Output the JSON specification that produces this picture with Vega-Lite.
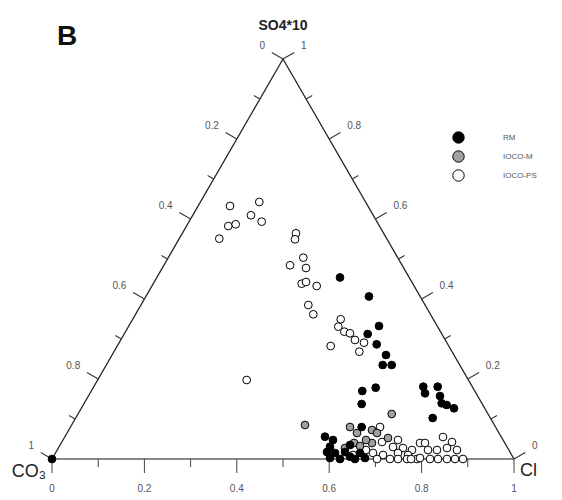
{
  "$schema": "https://vega.github.io/schema/vega-lite/v6.json",
  "width": 462,
  "height": 400,
  "autosize": "none",
  "padding": {"left": 52, "top": 59, "right": 48, "bottom": 41},
  "background": "white",
  "config": {"view": {"stroke": null}, "font": "Liberation Sans"},
  "layer": [
    {
      "data": {"values": [{"x": 0, "y": 0, "x2": 1, "y2": 0}]},
      "mark": {"type": "rule", "color": "#888", "strokeWidth": 2.2},
      "encoding": {
        "x": {"field": "x", "type": "quantitative", "scale": {"domain": [0, 1], "nice": false, "zero": false}, "axis": null},
        "y": {"field": "y", "type": "quantitative", "scale": {"domain": [0, 1], "nice": false, "zero": false}, "axis": null},
        "x2": {"field": "x2"},
        "y2": {"field": "y2"}
      }
    },
    {
      "data": {"values": [{"x": 0, "y": 0, "x2": 0.5, "y2": 1}, {"x": 0.5, "y": 1, "x2": 1, "y2": 0}]},
      "mark": {"type": "rule", "color": "#222", "strokeWidth": 1.3},
      "encoding": {
        "x": {"field": "x", "type": "quantitative"},
        "y": {"field": "y", "type": "quantitative"},
        "x2": {"field": "x2"},
        "y2": {"field": "y2"}
      }
    },
    {
      "data": {"values": [{"x": 0, "y": 0}, {"x": 0.2, "y": 0}, {"x": 0.4, "y": 0}, {"x": 0.6, "y": 0}, {"x": 0.8, "y": 0}, {"x": 1, "y": 0}]},
      "mark": {"type": "point", "shape": "M0,0L0,1", "size": 784, "filled": false, "stroke": "#444", "strokeWidth": 1, "opacity": 1},
      "encoding": {"x": {"field": "x", "type": "quantitative"}, "y": {"field": "y", "type": "quantitative"}}
    },
    {
      "data": {"values": [{"x": 0.1, "y": 0}, {"x": 0.3, "y": 0}, {"x": 0.5, "y": 0}, {"x": 0.7, "y": 0}, {"x": 0.9, "y": 0}]},
      "mark": {"type": "point", "shape": "M0,0L0,1", "size": 256, "filled": false, "stroke": "#444", "strokeWidth": 1, "opacity": 1},
      "encoding": {"x": {"field": "x", "type": "quantitative"}, "y": {"field": "y", "type": "quantitative"}}
    },
    {
      "data": {"values": [{"x": 0.5, "y": 1}, {"x": 0.4, "y": 0.8}, {"x": 0.3, "y": 0.6}, {"x": 0.2, "y": 0.4}, {"x": 0.1, "y": 0.2}, {"x": 0, "y": 0}]},
      "mark": {"type": "point", "shape": "M0,0L-1,0", "angle": 30, "size": 676, "filled": false, "stroke": "#333", "strokeWidth": 1, "opacity": 1},
      "encoding": {"x": {"field": "x", "type": "quantitative"}, "y": {"field": "y", "type": "quantitative"}}
    },
    {
      "data": {"values": [{"x": 0.45, "y": 0.9}, {"x": 0.35, "y": 0.7}, {"x": 0.25, "y": 0.5}, {"x": 0.15, "y": 0.3}, {"x": 0.05, "y": 0.1}]},
      "mark": {"type": "point", "shape": "M0,0L-1,0", "angle": 30, "size": 196, "filled": false, "stroke": "#333", "strokeWidth": 1, "opacity": 1},
      "encoding": {"x": {"field": "x", "type": "quantitative"}, "y": {"field": "y", "type": "quantitative"}}
    },
    {
      "data": {"values": [{"x": 1, "y": 0}, {"x": 0.9, "y": 0.2}, {"x": 0.8, "y": 0.4}, {"x": 0.7, "y": 0.6}, {"x": 0.6, "y": 0.8}, {"x": 0.5, "y": 1}]},
      "mark": {"type": "point", "shape": "M0,0L1,0", "angle": 330, "size": 676, "filled": false, "stroke": "#333", "strokeWidth": 1, "opacity": 1},
      "encoding": {"x": {"field": "x", "type": "quantitative"}, "y": {"field": "y", "type": "quantitative"}}
    },
    {
      "data": {"values": [{"x": 0.95, "y": 0.1}, {"x": 0.85, "y": 0.3}, {"x": 0.75, "y": 0.5}, {"x": 0.65, "y": 0.7}, {"x": 0.55, "y": 0.9}]},
      "mark": {"type": "point", "shape": "M0,0L1,0", "angle": 330, "size": 196, "filled": false, "stroke": "#333", "strokeWidth": 1, "opacity": 1},
      "encoding": {"x": {"field": "x", "type": "quantitative"}, "y": {"field": "y", "type": "quantitative"}}
    },
    {
      "data": {"values": [{"x": 0, "y": 0, "label": "0"}, {"x": 0.2, "y": 0, "label": "0.2"}, {"x": 0.4, "y": 0, "label": "0.4"}, {"x": 0.6, "y": 0, "label": "0.6"}, {"x": 0.8, "y": 0, "label": "0.8"}, {"x": 1, "y": 0, "label": "1"}]},
      "mark": {"type": "text", "align": "center", "baseline": "middle", "dy": 30, "fontSize": 10, "color": "#555"},
      "encoding": {"x": {"field": "x", "type": "quantitative"}, "y": {"field": "y", "type": "quantitative"}, "text": {"field": "label"}}
    },
    {
      "data": {"values": [{"x": 0.5, "y": 1, "label": "0"}, {"x": 0.4, "y": 0.8, "label": "0.2"}, {"x": 0.3, "y": 0.6, "label": "0.4"}, {"x": 0.2, "y": 0.4, "label": "0.6"}, {"x": 0.1, "y": 0.2, "label": "0.8"}, {"x": 0, "y": 0, "label": "1"}]},
      "mark": {"type": "text", "align": "right", "baseline": "middle", "dx": -18, "dy": -13, "fontSize": 10, "color": "#555"},
      "encoding": {"x": {"field": "x", "type": "quantitative"}, "y": {"field": "y", "type": "quantitative"}, "text": {"field": "label"}}
    },
    {
      "data": {"values": [{"x": 1, "y": 0, "label": "0"}, {"x": 0.9, "y": 0.2, "label": "0.2"}, {"x": 0.8, "y": 0.4, "label": "0.4"}, {"x": 0.7, "y": 0.6, "label": "0.6"}, {"x": 0.6, "y": 0.8, "label": "0.8"}, {"x": 0.5, "y": 1, "label": "1"}]},
      "mark": {"type": "text", "align": "left", "baseline": "middle", "dx": 18, "dy": -13, "fontSize": 10, "color": "#555"},
      "encoding": {"x": {"field": "x", "type": "quantitative"}, "y": {"field": "y", "type": "quantitative"}, "text": {"field": "label"}}
    },
    {
      "data": {"values": [{"x": 0, "y": 0, "label": "CO₃"}]},
      "mark": {"type": "text", "align": "right", "baseline": "middle", "dx": -6, "dy": 13, "fontSize": 18, "color": "#222"},
      "encoding": {"x": {"field": "x", "type": "quantitative"}, "y": {"field": "y", "type": "quantitative"}, "text": {"field": "label"}}
    },
    {
      "data": {"values": [{"x": 1, "y": 0, "label": "Cl"}]},
      "mark": {"type": "text", "align": "left", "baseline": "middle", "dx": 6, "dy": 12, "fontSize": 18, "color": "#222"},
      "encoding": {"x": {"field": "x", "type": "quantitative"}, "y": {"field": "y", "type": "quantitative"}, "text": {"field": "label"}}
    },
    {
      "data": {"values": [{"x": 0.5, "y": 1, "label": "SO4*10"}]},
      "mark": {"type": "text", "align": "center", "baseline": "middle", "dy": -33, "fontSize": 14, "fontWeight": "bold", "color": "#222"},
      "encoding": {"x": {"field": "x", "type": "quantitative"}, "y": {"field": "y", "type": "quantitative"}, "text": {"field": "label"}}
    },
    {
      "data": {"values": [{"x": 0, "y": 1, "label": "B"}]},
      "mark": {"type": "text", "align": "left", "baseline": "middle", "dx": 5, "dy": -22, "fontSize": 28, "fontWeight": "bold", "color": "#111"},
      "encoding": {"x": {"field": "x", "type": "quantitative"}, "y": {"field": "y", "type": "quantitative"}, "text": {"field": "label"}}
    },
    {
      "data": {"values": [
        {"group": "IOCO-PS", "x": 0.3853, "y": 0.6325},
        {"group": "IOCO-PS", "x": 0.4487, "y": 0.6425},
        {"group": "IOCO-PS", "x": 0.4307, "y": 0.6093},
        {"group": "IOCO-PS", "x": 0.4539, "y": 0.5933},
        {"group": "IOCO-PS", "x": 0.3816, "y": 0.5825},
        {"group": "IOCO-PS", "x": 0.3976, "y": 0.5868},
        {"group": "IOCO-PS", "x": 0.3621, "y": 0.5508},
        {"group": "IOCO-PS", "x": 0.5281, "y": 0.5643},
        {"group": "IOCO-PS", "x": 0.5260, "y": 0.5493},
        {"group": "IOCO-PS", "x": 0.5439, "y": 0.5033},
        {"group": "IOCO-PS", "x": 0.5152, "y": 0.4843},
        {"group": "IOCO-PS", "x": 0.5498, "y": 0.4775},
        {"group": "IOCO-PS", "x": 0.5405, "y": 0.4383},
        {"group": "IOCO-PS", "x": 0.5498, "y": 0.4425},
        {"group": "IOCO-PS", "x": 0.5729, "y": 0.4325},
        {"group": "IOCO-PS", "x": 0.5548, "y": 0.3850},
        {"group": "IOCO-PS", "x": 0.5656, "y": 0.3618},
        {"group": "IOCO-PS", "x": 0.6249, "y": 0.3493},
        {"group": "IOCO-PS", "x": 0.6197, "y": 0.3308},
        {"group": "IOCO-PS", "x": 0.6327, "y": 0.3183},
        {"group": "IOCO-PS", "x": 0.6450, "y": 0.3143},
        {"group": "IOCO-PS", "x": 0.6558, "y": 0.2975},
        {"group": "IOCO-PS", "x": 0.6753, "y": 0.2908},
        {"group": "IOCO-PS", "x": 0.6652, "y": 0.2683},
        {"group": "IOCO-PS", "x": 0.6032, "y": 0.2825},
        {"group": "IOCO-PS", "x": 0.4214, "y": 0.1975},
        {"group": "IOCO-PS", "x": 0.7100, "y": 0.0800},
        {"group": "IOCO-PS", "x": 0.7143, "y": 0.0425},
        {"group": "IOCO-PS", "x": 0.7381, "y": 0.0300},
        {"group": "IOCO-PS", "x": 0.7489, "y": 0.0475},
        {"group": "IOCO-PS", "x": 0.7597, "y": 0.0275},
        {"group": "IOCO-PS", "x": 0.7792, "y": 0.0225},
        {"group": "IOCO-PS", "x": 0.7965, "y": 0.0400},
        {"group": "IOCO-PS", "x": 0.6948, "y": 0.0150},
        {"group": "IOCO-PS", "x": 0.7165, "y": 0.0100},
        {"group": "IOCO-PS", "x": 0.7489, "y": 0.0150},
        {"group": "IOCO-PS", "x": 0.7706, "y": 0.0100},
        {"group": "IOCO-PS", "x": 0.7489, "y": 0.0},
        {"group": "IOCO-PS", "x": 0.7684, "y": 0.0},
        {"group": "IOCO-PS", "x": 0.7900, "y": 0.0},
        {"group": "IOCO-PS", "x": 0.7316, "y": 0.0},
        {"group": "IOCO-PS", "x": 0.7035, "y": 0.0},
        {"group": "IOCO-PS", "x": 0.6515, "y": 0.0100},
        {"group": "IOCO-PS", "x": 0.6797, "y": 0.0225},
        {"group": "IOCO-PS", "x": 0.8463, "y": 0.0550},
        {"group": "IOCO-PS", "x": 0.8139, "y": 0.0225},
        {"group": "IOCO-PS", "x": 0.8333, "y": 0.0225},
        {"group": "IOCO-PS", "x": 0.8550, "y": 0.0275},
        {"group": "IOCO-PS", "x": 0.8766, "y": 0.0225},
        {"group": "IOCO-PS", "x": 0.8182, "y": 0.0},
        {"group": "IOCO-PS", "x": 0.8355, "y": 0.0},
        {"group": "IOCO-PS", "x": 0.8550, "y": 0.0},
        {"group": "IOCO-PS", "x": 0.8723, "y": 0.0},
        {"group": "IOCO-PS", "x": 0.8896, "y": 0.0},
        {"group": "IOCO-PS", "x": 0.8074, "y": 0.0400},
        {"group": "IOCO-PS", "x": 0.8658, "y": 0.0425},
        {"group": "IOCO-PS", "x": 0.7965, "y": 0.0025},
        {"group": "IOCO-PS", "x": 0.7771, "y": 0.0},
        {"group": "IOCO-M", "x": 0.5476, "y": 0.0850},
        {"group": "IOCO-M", "x": 0.7353, "y": 0.1125},
        {"group": "IOCO-M", "x": 0.6450, "y": 0.0800},
        {"group": "IOCO-M", "x": 0.6926, "y": 0.0725},
        {"group": "IOCO-M", "x": 0.6602, "y": 0.0650},
        {"group": "IOCO-M", "x": 0.7035, "y": 0.0650},
        {"group": "IOCO-M", "x": 0.6537, "y": 0.0400},
        {"group": "IOCO-M", "x": 0.6926, "y": 0.0400},
        {"group": "IOCO-M", "x": 0.7273, "y": 0.0525},
        {"group": "IOCO-M", "x": 0.6797, "y": 0.0475},
        {"group": "IOCO-M", "x": 0.6342, "y": 0.0275},
        {"group": "IOCO-M", "x": 0.6667, "y": 0.0325},
        {"group": "RM", "x": 0.0, "y": 0.0},
        {"group": "RM", "x": 0.6234, "y": 0.4538},
        {"group": "RM", "x": 0.6861, "y": 0.4063},
        {"group": "RM", "x": 0.7078, "y": 0.3325},
        {"group": "RM", "x": 0.6833, "y": 0.3125},
        {"group": "RM", "x": 0.7028, "y": 0.2868},
        {"group": "RM", "x": 0.7229, "y": 0.2600},
        {"group": "RM", "x": 0.7158, "y": 0.2350},
        {"group": "RM", "x": 0.7353, "y": 0.2350},
        {"group": "RM", "x": 0.7006, "y": 0.1783},
        {"group": "RM", "x": 0.6716, "y": 0.1700},
        {"group": "RM", "x": 0.6703, "y": 0.1375},
        {"group": "RM", "x": 0.8037, "y": 0.1808},
        {"group": "RM", "x": 0.8074, "y": 0.1643},
        {"group": "RM", "x": 0.8348, "y": 0.1808},
        {"group": "RM", "x": 0.8398, "y": 0.1575},
        {"group": "RM", "x": 0.8435, "y": 0.1393},
        {"group": "RM", "x": 0.8543, "y": 0.1350},
        {"group": "RM", "x": 0.8701, "y": 0.1268},
        {"group": "RM", "x": 0.8240, "y": 0.1025},
        {"group": "RM", "x": 0.5909, "y": 0.0558},
        {"group": "RM", "x": 0.6017, "y": 0.0308},
        {"group": "RM", "x": 0.6126, "y": 0.0150},
        {"group": "RM", "x": 0.6234, "y": 0.0},
        {"group": "RM", "x": 0.6450, "y": 0.0058},
        {"group": "RM", "x": 0.6667, "y": 0.0150},
        {"group": "RM", "x": 0.6703, "y": 0.0800},
        {"group": "RM", "x": 0.6017, "y": 0.0025},
        {"group": "RM", "x": 0.6342, "y": 0.0175},
        {"group": "RM", "x": 0.6558, "y": 0.0},
        {"group": "RM", "x": 0.6775, "y": 0.0025},
        {"group": "RM", "x": 0.6082, "y": 0.0475},
        {"group": "RM", "x": 0.5952, "y": 0.0175},
        {"group": "RM", "x": 0.6450, "y": 0.0350}
      ]},
      "mark": {"type": "point", "shape": "circle", "filled": true, "size": 60, "stroke": "black", "strokeWidth": 1, "opacity": 1},
      "encoding": {
        "x": {"field": "x", "type": "quantitative"},
        "y": {"field": "y", "type": "quantitative"},
        "fill": {
          "field": "group",
          "type": "nominal",
          "scale": {"domain": ["RM", "IOCO-M", "IOCO-PS"], "range": ["#000000", "#a0a0a0", "#ffffff"]},
          "legend": {
            "orient": "none",
            "legendX": 400,
            "legendY": 72,
            "title": null,
            "labelFontSize": 8,
            "labelColor": "#555",
            "labelOffset": 38,
            "symbolSize": 130,
            "symbolType": "circle",
            "symbolStrokeColor": "black",
            "symbolStrokeWidth": 1,
            "symbolOpacity": 1,
            "rowPadding": 2
          }
        }
      }
    }
  ]
}
